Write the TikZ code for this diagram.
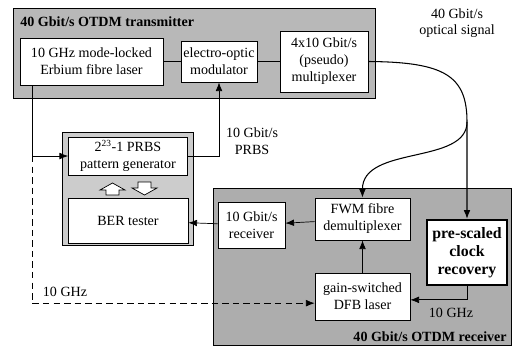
\documentclass[tikz,border=0pt]{standalone}
\usepackage{fontspec}
\setmainfont{Liberation Serif}
\usetikzlibrary{arrows.meta,positioning}

\tikzset{
  blk/.style={draw, fill=white, align=center, inner sep=2pt, font=\fontsize{12}{14.5}\selectfont},
  grp/.style={draw, fill=black!28},
  ttl/.style={font=\fontsize{12}{14}\selectfont\bfseries, inner sep=0pt},
  lbl/.style={align=center, inner sep=0pt, font=\fontsize{12}{14}\selectfont},
  fibre/.style={line width=0.9pt},
  clockline/.style={dash pattern=on 5.5pt off 3.5pt}
}

\begin{document}
\begin{tikzpicture}
			[x=0.03cm, y=-0.03cm, >={Latex[length=2.6mm,width=2mm]}, line width=0.6pt]
			\useasboundingbox (0,0) rectangle (513,351);
			% grey group boxes
			\draw[grp] (13,8) rectangle (375,98);
			\draw[grp, fill=black!20] (62,132) rectangle (193,245);
			\draw[grp, fill=black!32] (213,188) rectangle (511,345);
			\node[ttl, anchor=west] (txt) at (20,22) {40 Gbit/s OTDM transmitter};
			\node[ttl, anchor=east] (rxt) at (507,337) {40 Gbit/s OTDM receiver};
			% transmitter
			\node[blk, minimum width=4.29cm, minimum height=1.41cm] (laser) at (91.5,61.5) {10 GHz mode-locked\\Erbium fibre laser};
			\node[blk, minimum width=2.28cm, minimum height=1.23cm] (mod) at (219,61.5) {electro-optic\\modulator};
			\node[blk, minimum width=2.64cm, minimum height=1.83cm] (mux) at (324,61.5) {4x10 Gbit/s\\(pseudo)\\multiplexer};
			% BER test set
			\node[blk, minimum width=3.57cm, minimum height=1.14cm] (prbs) at (128,156) {2\textsuperscript{23}-1 PRBS\\pattern generator};
			\node[blk, minimum width=3.6cm, minimum height=1.35cm] (ber) at (128,220.5) {BER tester};
			\draw[fill=white] (100,190) -- (112.5,183) -- (125,190) -- (119,190) -- (119,195) -- (106,195) -- (106,190) -- cycle;
			\draw[fill=white] (138,182) -- (151,182) -- (151,188) -- (157,188) -- (144.5,195) -- (132,188) -- (138,188) -- cycle;
			% receiver
			\node[blk, minimum width=2.01cm, minimum height=1.38cm] (rcv) at (251.5,225) {10 Gbit/s\\receiver};
			\node[blk, minimum width=2.85cm, minimum height=1.26cm] (fwm) at (362.5,219) {FWM fibre\\demultiplexer};
			\node[blk, minimum width=2.85cm, minimum height=1.41cm] (dfb) at (362.5,296.5) {gain-switched\\DFB laser};
			\node[blk, line width=2pt, minimum width=2.4cm, minimum height=1.95cm, font=\fontsize{13.5}{15.5}\selectfont\bfseries] (clk) at (467,252.5) {pre-scaled\\clock\\recovery};
			% labels
			\node[lbl] (optl) at (457,23) {40 Gbit/s\\optical signal};
			\node[lbl] (prbsl) at (252,141) {10 Gbit/s\\PRBS};
			\node[lbl] (ghzl) at (65,292) {10 GHz};
			\node[lbl] (ghzr) at (451,313) {10 GHz};
			\coordinate (tap) at (32,85);
			\coordinate (split) at (467,122);
			% connectors
			\draw (laser) -- (mod);
			\draw (mod) -- (mux);
			\draw[->, fibre] (mux.east) .. controls (445,62) and (467,76) .. (split) -- (clk.north);
			\draw[->, fibre] (split) .. controls (467,165) and (362,145) .. (fwm.north);
			\draw[->] (tap) |- (prbs.west);
			\draw[->, clockline] (tap |- prbs.west) |- ([yshift=-0.2cm]dfb.west);
			\draw[->] (prbs.east) -| (mod.south);
			\draw[->] (fwm) -- (rcv);
			\draw[->] (rcv) -- (ber);
			\draw[->] (dfb) -- (fwm);
			\draw[->] (clk.south) |- ([yshift=-0.1cm]dfb.east);
		\end{tikzpicture}
\end{document}
